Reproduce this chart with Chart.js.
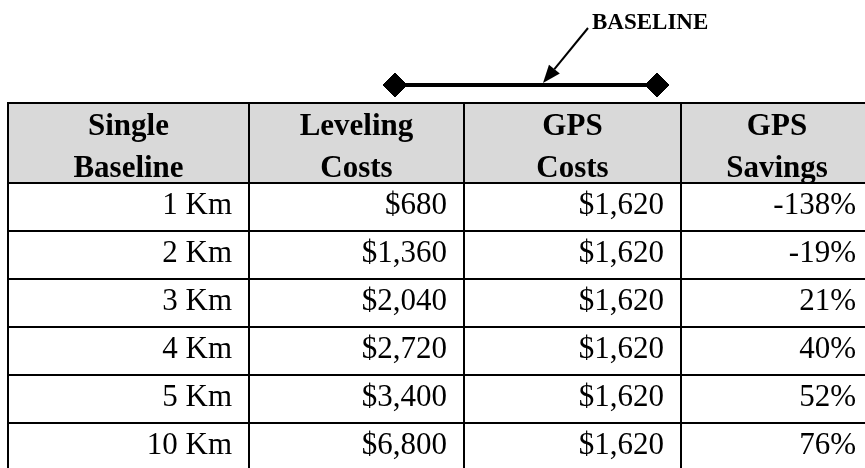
<!DOCTYPE html>
<html>
<head>
<meta charset="utf-8">
<script src="https://cdn.jsdelivr.net/npm/chart.js@4.4.0/dist/chart.umd.min.js"></script>
<style>
  html, body { margin: 0; padding: 0; background: #fff; }
</style>
</head>
<body>
<canvas id="costTable" width="865" height="468"></canvas>
<script>
  // Table data
  const headers = [['Single', 'Baseline'], ['Leveling', 'Costs'], ['GPS', 'Costs'], ['GPS', 'Savings']]
  const distances = ['1 Km', '2 Km', '3 Km', '4 Km', '5 Km', '10 Km']
  const levelingCosts = [680, 1360, 2040, 2720, 3400, 6800]
  const gpsCosts = [1620, 1620, 1620, 1620, 1620, 1620]
  const gpsSavings = [-138, -19, 21, 40, 52, 76]
  const diagramLabel = 'BASELINE'

  // Layout in scale units (x: table units, y: rows of the body)
  const colEdges = [8, 249, 464, 681, 873]
  const headerTop = -80 / 48
  const rowEdges = [headerTop, 0, 1, 2, 3, 4, 5]
  const headerBaselines = [-1.0, -0.125]
  const rowBaseline = 31 / 48
  const cellPad = 17
  const baselineEnds = [395, 657]
  const baselineY = -98 / 48
  const arrowTail = { x: 588, y: -155 / 48 }
  const arrowTip = { x: 543, y: -100 / 48 }
  const labelPos = { x: 592, y: -154 / 48 }

  const serif = '"Liberation Serif", "Times New Roman", serif'
  const fmtMoney = v => '$' + v.toLocaleString('en-US')
  const fmtPct = v => v + '%'

  const columns = [distances, levelingCosts.map(fmtMoney), gpsCosts.map(fmtMoney), gpsSavings.map(fmtPct)]

  const tablePlugin = {
    id: 'tablePlugin',
    beforeDatasetsDraw(chart) {
      const { ctx, scales: { x, y } } = chart
      const left = x.getPixelForValue(colEdges[0])
      const right = x.getPixelForValue(colEdges[colEdges.length - 1])
      const top = y.getPixelForValue(headerTop)
      const headBottom = y.getPixelForValue(0)

      ctx.save()
      // header background
      ctx.fillStyle = '#d9d9d9'
      ctx.fillRect(left, top, right - left, headBottom - top)

      // grid lines
      ctx.strokeStyle = '#000'
      ctx.lineWidth = 2
      ctx.beginPath()
      rowEdges.forEach(v => {
        const py = Math.round(y.getPixelForValue(v))
        ctx.moveTo(left - 1, py)
        ctx.lineTo(right, py)
      })
      colEdges.forEach(v => {
        const px = Math.round(x.getPixelForValue(v))
        ctx.moveTo(px, top - 1)
        ctx.lineTo(px, chart.chartArea.bottom)
      })
      ctx.stroke()

      // header text
      ctx.fillStyle = '#000'
      ctx.textBaseline = 'alphabetic'
      ctx.font = 'bold 31px ' + serif
      ctx.textAlign = 'center'
      headers.forEach((lines, j) => {
        const cx = x.getPixelForValue((colEdges[j] + colEdges[j + 1]) / 2)
        lines.forEach((t, k) => ctx.fillText(t, cx, y.getPixelForValue(headerBaselines[k])))
      })

      // body cells
      ctx.font = '31px ' + serif
      ctx.textAlign = 'right'
      columns.forEach((col, j) => {
        const rx = x.getPixelForValue(colEdges[j + 1] - cellPad)
        col.forEach((t, i) => ctx.fillText(t, rx, y.getPixelForValue(i + rowBaseline)))
      })

      // arrow pointing at the baseline
      const tx = x.getPixelForValue(arrowTail.x), ty = y.getPixelForValue(arrowTail.y)
      const hx = x.getPixelForValue(arrowTip.x), hy = y.getPixelForValue(arrowTip.y)
      const ang = Math.atan2(hy - ty, hx - tx)
      const headLen = 18, headHalf = 7
      const bx = hx - Math.cos(ang) * headLen, by = hy - Math.sin(ang) * headLen
      ctx.lineWidth = 2
      ctx.beginPath()
      ctx.moveTo(tx, ty)
      ctx.lineTo(bx, by)
      ctx.stroke()
      ctx.beginPath()
      ctx.moveTo(hx, hy)
      ctx.lineTo(bx + Math.sin(ang) * headHalf, by - Math.cos(ang) * headHalf)
      ctx.lineTo(bx - Math.sin(ang) * headHalf, by + Math.cos(ang) * headHalf)
      ctx.closePath()
      ctx.fill()

      ctx.font = 'bold 23px ' + serif
      ctx.textAlign = 'left'
      ctx.fillText(diagramLabel, x.getPixelForValue(labelPos.x), y.getPixelForValue(labelPos.y))
      ctx.restore()
    }
  }

  new Chart(document.getElementById('costTable'), {
    type: 'scatter',
    data: {
      datasets: [{
        data: baselineEnds.map(v => ({ x: v, y: baselineY })),
        showLine: true,
        borderColor: '#000',
        borderWidth: 4,
        pointStyle: 'rectRot',
        pointRadius: 12,
        pointBackgroundColor: '#000',
        pointBorderColor: '#000',
        pointBorderWidth: 1,
        clip: false
      }]
    },
    options: {
      responsive: false,
      animation: false,
      events: [],
      layout: { padding: 0, autoPadding: false },
      plugins: {
        legend: { display: false },
        tooltip: { enabled: false }
      },
      scales: {
        x: { type: 'linear', display: false, min: 0, max: 865 },
        y: { type: 'linear', display: false, reverse: true, min: -183 / 48, max: 285 / 48 }
      }
    },
    plugins: [tablePlugin]
  })
</script>
</body>
</html>
